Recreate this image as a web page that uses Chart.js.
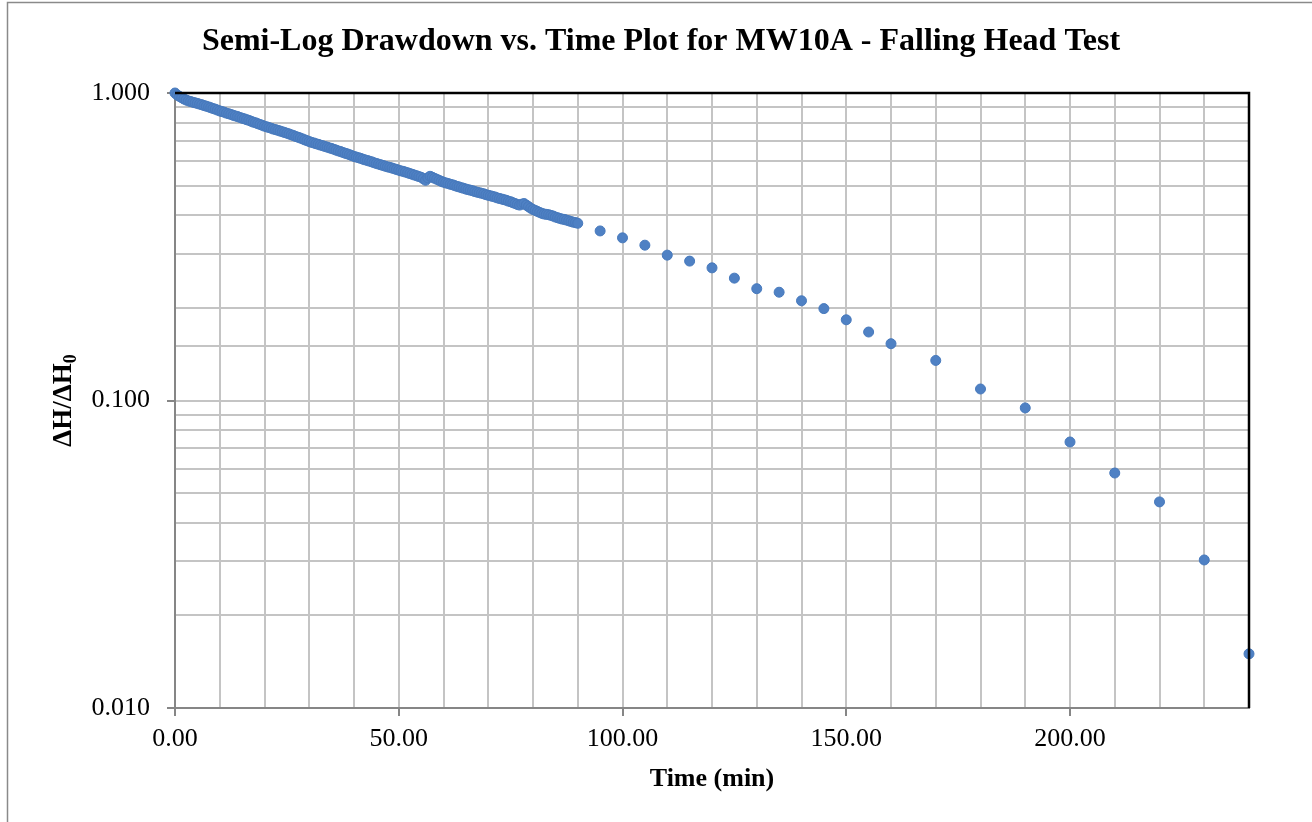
<!DOCTYPE html>
<html>
<head>
<meta charset="utf-8">
<script src="https://cdn.jsdelivr.net/npm/chart.js@4.4.1/dist/chart.umd.min.js"></script>
<style>
html,body{margin:0;padding:0;background:#fff;}
#wrap{position:absolute;left:0;top:0;width:1312px;height:822px;}
</style>
</head>
<body>
<div id="wrap"><canvas id="c" width="1312" height="822"></canvas></div>
<script>
const chartTitle = "Semi-Log Drawdown vs. Time Plot for MW10A - Falling Head Test";
const xAxisTitle = "Time (min)";
const yAxisTitleMain = "ΔH/ΔH";
const yAxisTitleSub = "0";

const timeMin = [
 0,0.5,1,1.5,2,2.5,3,3.5,4,4.5,5,
 5.5,6,6.5,7,7.5,8,8.5,9,9.5,10,
 10.5,11,11.5,12,12.5,13,13.5,14,14.5,15,
 15.5,16,16.5,17,17.5,18,18.5,19,19.5,20,
 20.5,21,21.5,22,22.5,23,23.5,24,24.5,25,
 25.5,26,26.5,27,27.5,28,28.5,29,29.5,30,
 30.5,31,31.5,32,32.5,33,33.5,34,34.5,35,
 35.5,36,36.5,37,37.5,38,38.5,39,39.5,40,
 40.5,41,41.5,42,42.5,43,43.5,44,44.5,45,
 45.5,46,46.5,47,47.5,48,48.5,49,49.5,50,
 50.5,51,51.5,52,52.5,53,53.5,54,54.5,55,
 55.5,56,56.5,57,57.5,58,58.5,59,59.5,60,
 60.5,61,61.5,62,62.5,63,63.5,64,64.5,65,
 65.5,66,66.5,67,67.5,68,68.5,69,69.5,70,
 70.5,71,71.5,72,72.5,73,73.5,74,74.5,75,
 75.5,76,76.5,77,77.5,78,78.5,79,79.5,80,
 80.5,81,81.5,82,82.5,83,83.5,84,84.5,85,
 85.5,86,86.5,87,87.5,88,88.5,89,89.5,90,
 95,100,105,110,115,120,125,130,135,140,145,150,155,160,
 170,180,190,200,210,220,230,240
];
const headRatio = [
 1.000,0.985,0.975,0.965,0.956,0.949,0.942,0.938,0.933,0.929,0.925,
 0.920,0.916,0.910,0.906,0.901,0.896,0.890,0.886,0.880,0.874,
 0.870,0.866,0.860,0.856,0.852,0.846,0.842,0.838,0.833,0.828,
 0.824,0.819,0.815,0.809,0.804,0.800,0.795,0.790,0.785,0.780,
 0.776,0.772,0.768,0.763,0.760,0.756,0.752,0.748,0.744,0.740,
 0.736,0.731,0.727,0.722,0.718,0.714,0.709,0.704,0.700,0.695,
 0.691,0.688,0.684,0.681,0.677,0.674,0.670,0.667,0.663,0.660,
 0.656,0.652,0.648,0.645,0.641,0.637,0.634,0.630,0.626,0.622,
 0.619,0.616,0.613,0.609,0.606,0.603,0.600,0.597,0.593,0.590,
 0.587,0.584,0.581,0.578,0.575,0.573,0.570,0.567,0.564,0.561,
 0.558,0.556,0.553,0.550,0.547,0.544,0.541,0.538,0.535,0.532,
 0.526,0.520,0.530,0.536,0.532,0.528,0.524,0.520,0.516,0.513,
 0.510,0.508,0.505,0.503,0.500,0.497,0.495,0.492,0.490,0.487,
 0.485,0.483,0.481,0.478,0.476,0.474,0.472,0.470,0.467,0.465,
 0.463,0.461,0.459,0.456,0.454,0.452,0.450,0.448,0.445,0.443,
 0.440,0.437,0.434,0.432,0.435,0.437,0.432,0.427,0.422,0.418,
 0.415,0.412,0.409,0.406,0.404,0.403,0.402,0.400,0.398,0.395,
 0.393,0.391,0.389,0.388,0.386,0.384,0.382,0.380,0.379,0.377,
 0.356,0.338,0.320,0.297,0.284,0.270,0.250,0.231,0.225,0.211,0.199,0.183,0.167,0.153,
 0.135,0.109,0.0946,0.0733,0.0581,0.0468,0.0303,0.0150
];
const xLabeledTicks = [0, 50, 100, 150, 200];
const yLabeledTicks = [0.01, 0.1, 1];

const points = timeMin.map((t, i) => ({x: t, y: headRatio[i]}));
const FONT = "'Liberation Serif', 'Times New Roman', serif";

function isXLabeled(v){ return xLabeledTicks.some(t => Math.abs(t - v) < 1e-9); }
function isYLabeled(v){ return yLabeledTicks.some(t => Math.abs(Math.log10(t) - Math.log10(v)) < 1e-6); }

const decorPlugin = {
  id: 'decor',
  afterDraw(chart){
    const ctx = chart.ctx, a = chart.chartArea;
    ctx.save();
    ctx.strokeStyle = '#8a8a8a';
    ctx.lineWidth = 1.5;
    ctx.beginPath();
    ctx.moveTo(7.5, 822); ctx.lineTo(7.5, 2.5); ctx.lineTo(1312, 2.5);
    ctx.stroke();
    ctx.strokeStyle = '#000';
    ctx.lineWidth = 2.5;
    ctx.beginPath();
    ctx.moveTo(a.left, a.top); ctx.lineTo(a.right, a.top); ctx.lineTo(a.right, a.bottom);
    ctx.stroke();
    ctx.fillStyle = '#000';
    ctx.font = "bold 32px " + FONT;
    ctx.textAlign = 'center';
    ctx.textBaseline = 'middle';
    ctx.fillText(chartTitle, 661, 42);
    ctx.translate(62, (a.top + a.bottom) / 2);
    ctx.rotate(-Math.PI / 2);
    ctx.font = "bold 27px " + FONT;
    const w1 = ctx.measureText(yAxisTitleMain).width;
    ctx.font = "bold 18px " + FONT;
    const w2 = ctx.measureText(yAxisTitleSub).width;
    const start = -(w1 + w2) / 2;
    ctx.textAlign = 'left';
    ctx.textBaseline = 'alphabetic';
    ctx.font = "bold 27px " + FONT;
    ctx.fillText(yAxisTitleMain, start, 9);
    ctx.font = "bold 18px " + FONT;
    ctx.fillText(yAxisTitleSub, start + w1, 14);
    ctx.restore();
  }
};

new Chart(document.getElementById('c'), {
  type: 'scatter',
  data: {
    datasets: [{
      data: points,
      pointRadius: 5,
      pointHoverRadius: 5,
      pointBackgroundColor: '#4f81c4',
      pointBorderColor: '#4779bc',
      pointBorderWidth: 1,
      showLine: false,
      clip: false
    }]
  },
  options: {
    responsive: false,
    animation: false,
    events: [],
    layout: { padding: { top: 93, right: 63, left: 0, bottom: 0 } },
    plugins: { legend: { display: false }, tooltip: { enabled: false }, title: { display: false } },
    scales: {
      x: {
        type: 'linear', min: 0, max: 240,
        afterFit(s){ s.height = 114; },
        ticks: {
          stepSize: 10, autoSkip: false, maxRotation: 0, padding: 8,
          color: '#000', font: { family: FONT, size: 26 },
          callback: v => isXLabeled(v) ? v.toFixed(2) : ''
        },
        grid: {
          color: '#c4c4c4', lineWidth: 2, tickLength: 8,
          tickColor: c => (c.tick && isXLabeled(c.tick.value)) ? '#868686' : 'rgba(0,0,0,0)',
          tickWidth: 2
        },
        border: { color: '#868686', width: 2 },
        title: {
          display: true, text: xAxisTitle, color: '#000',
          font: { family: FONT, size: 26, weight: 'bold' },
          padding: { top: 0, bottom: 27 }
        }
      },
      y: {
        type: 'logarithmic', min: 0.01, max: 1,
        afterFit(s){ s.width = 175; },
        ticks: {
          autoSkip: false, padding: 17,
          color: '#000', font: { family: FONT, size: 26 },
          callback: v => isYLabeled(v) ? Number(v).toFixed(3) : ''
        },
        grid: {
          color: '#c4c4c4', lineWidth: 2, tickLength: 8,
          tickColor: c => (c.tick && isYLabeled(c.tick.value)) ? '#868686' : 'rgba(0,0,0,0)',
          tickWidth: 2
        },
        border: { color: '#868686', width: 2 }
      }
    }
  },
  plugins: [decorPlugin]
});
</script>
</body>
</html>
